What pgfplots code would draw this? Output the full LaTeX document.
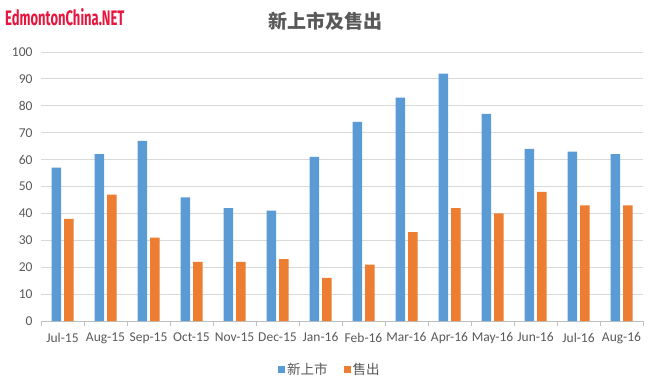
\documentclass[border=0pt]{standalone}
\usepackage{pgfplots}
\pgfplotsset{compat=1.18}
\usepackage{fontspec}
\setmainfont{Carlito}
\newfontfamily\cjk{Noto Sans CJK SC}
\newfontfamily\logofont{Fira Sans}
\definecolor{xblue}{HTML}{5B9BD5}
\definecolor{xorange}{HTML}{ED7D31}
\definecolor{txt}{HTML}{595959}
\definecolor{gridc}{HTML}{D9D9D9}
\definecolor{axc}{HTML}{BFBFBF}
\definecolor{logo}{HTML}{E5173F}
\pgfplotstableread{
x new sold
0 57 38
1 62 47
2 67 31
3 46 22
4 42 22
5 41 23
6 61 16
7 74 21
8 83 33
9 92 42
10 77 40
11 64 48
12 63 43
13 62 43
}\datatable
\begin{document}
\begin{tikzpicture}[x=1bp,y=1bp]
\useasboundingbox (0,0) rectangle (656,385);
\node[anchor=west,inner sep=0] at (5,368) {\scalebox{0.62}[1]{\fontsize{21bp}{23bp}\selectfont\logofont\bfseries\color{logo}EdmontonChina.NET}};
\node[anchor=center,inner sep=0] at (325,364) {\fontsize{19bp}{21bp}\selectfont\cjk\bfseries\color{txt}新上市及售出};
\begin{axis}[
  at={(41bp,64bp)}, anchor=south west,
  scale only axis, width=602bp, height=269bp,
  ymin=0, ymax=100, ytick={0,10,...,100},
  xmin=-0.5, xmax=13.5,
  xtick={0,...,13},
  xticklabels={Jul-15,Aug-15,Sep-15,Oct-15,Nov-15,Dec-15,Jan-16,Feb-16,Mar-16,Apr-16,May-16,Jun-16,Jul-16,Aug-16},
  minor xtick={-0.5,0.5,...,13.5},
  xtick style={draw=none},
  minor x tick style={draw=axc},
  xtick align=outside,
  minor tick length=5bp,
  ytick style={draw=none},
  axis x line*=bottom, axis y line*=left,
  x axis line style={draw=axc},
  y axis line style={draw=none},
  ymajorgrids, grid style={draw=gridc, line width=0.8bp},
  tick label style={font=\fontsize{13.5bp}{15bp}\selectfont, text=txt},
  /pgf/number format/assume math mode=true,
  yticklabel style={xshift=-5bp},
  xticklabel style={yshift=-4bp},
  ybar=3bp, bar width=9.5bp,
  legend style={at={(0.48,-0.14)}, anchor=north, draw=none, legend columns=2,
    font=\fontsize{13.5bp}{15bp}\selectfont\cjk\color{txt},
    /tikz/every even column/.append style={column sep=14bp}},
  legend image code/.code={\fill[#1] (0,-3.5bp) rectangle (7bp,3.5bp);},
  clip=false,
]
\addplot[fill=xblue, draw=none] table[x=x,y=new]{\datatable};
\addlegendentry{新上市}
\addplot[fill=xorange, draw=none] table[x=x,y=sold]{\datatable};
\addlegendentry{售出}
\end{axis}
\end{tikzpicture}
\end{document}
